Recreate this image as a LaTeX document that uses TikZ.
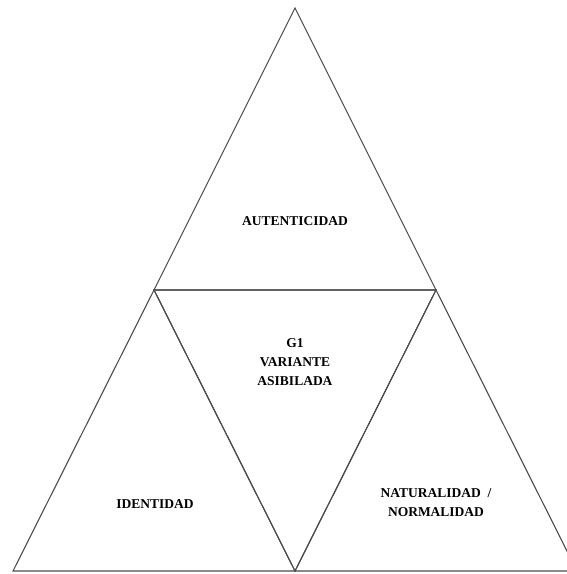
\documentclass[tikz,border=0pt]{standalone}
\usepackage{fontspec}
\setmainfont{Liberation Serif}
\usepackage{tikz}
\usetikzlibrary{positioning}
\tikzset{side/.style = {draw=black!70, line width=1.1pt, line join=miter}}
\tikzset{lbl/.style = {font=\fontsize{13.5}{19}\selectfont\bfseries, align=center, inner sep=0}}

\begin{document}
\begin{tikzpicture}[x=1pt, y=1pt]
    \useasboundingbox (0,0) rectangle (567,574);
    \clip (0,0) rectangle (567,574);

    \coordinate (apex) at (295, 566);
    \coordinate (midL) at (154, 284);
    \coordinate (midR) at (436, 284);
    \coordinate (baseL) at (13, 3);
    \coordinate (bot) at (295, 3);
    \coordinate (baseR) at (577, 3);

    % outer triangles
    \draw [side] (apex) -- (midR) -- (midL) -- cycle;
    \draw [side] (midL) -- (bot) -- (baseL) -- cycle;
    \draw [side] (midR) -- (baseR) -- (bot) -- cycle;
    % inner one
    \draw [side] (midL) -- (midR) -- (bot) -- cycle;

    \node [lbl] (auth) at (295, 353) {AUTENTICIDAD};
    \node [lbl] (g1) at (295, 212) {G1\\VARIANTE\\ASIBILADA};
    \node [lbl] (ident) at (155, 70) {IDENTIDAD};
    \node [lbl] (natur) at (436, 71) {NATURALIDAD~~/\\NORMALIDAD};
  \end{tikzpicture}
\end{document}
